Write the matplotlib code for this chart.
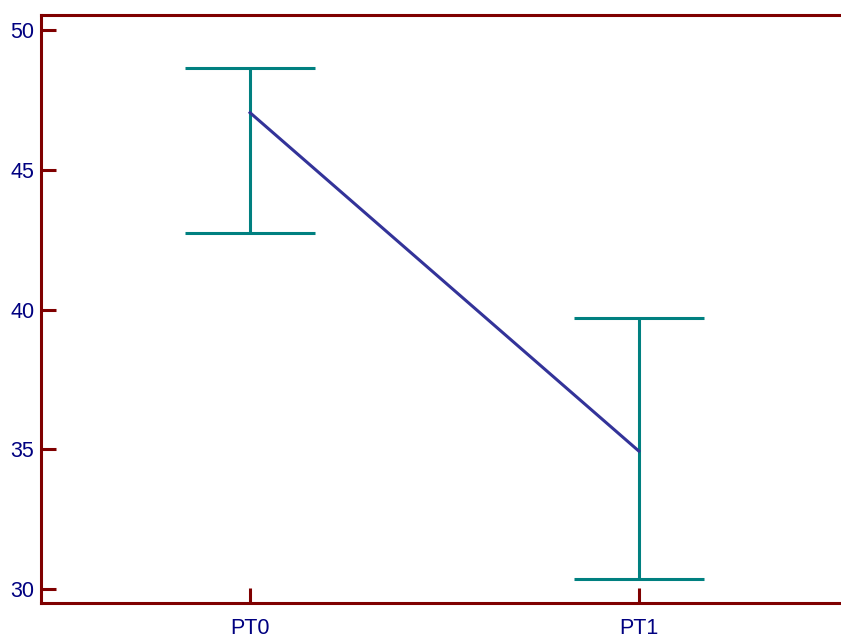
import numpy as np
import matplotlib.pyplot as plt

# values
labels = ['PT0', 'PT1']
means = [47.05, 34.93]
upper = [48.64, 39.69]
lower = [42.74, 30.36]
yticks = [30, 35, 40, 45, 50]

spine_col = '#7f0000'
text_col = '#000080'

plt.rcParams['font.family'] = ['Liberation Sans', 'DejaVu Sans']

x = np.arange(len(labels))
m = np.array(means)
err = [m - np.array(lower), np.array(upper) - m]

fig = plt.figure(figsize=(8.41, 6.34), dpi=100)
ax = fig.add_axes([0.0491, 0.0494, 0.9509, 0.9274])

ax.errorbar(x, m, yerr=err, fmt='none', ecolor='#008080', elinewidth=2.2,
            capsize=47, capthick=2.2, zorder=2)
ax.plot(x, m, color='#333399', lw=2.2, zorder=3)

ax.set_xlim(-0.537, 1.52)
ax.set_ylim(29.5, 50.56)
ax.set_xticks(x)
ax.set_xticklabels(labels)
ax.set_yticks(yticks)

for side in ['left', 'top', 'bottom']:
    ax.spines[side].set_color(spine_col)
    ax.spines[side].set_linewidth(2.2)
ax.spines['right'].set_visible(False)

ax.tick_params(direction='in', length=11, width=2.2, color=spine_col,
               labelcolor=text_col, labelsize=15.5)
ax.tick_params(axis='y', pad=5)
ax.tick_params(axis='x', pad=11)

fig.savefig('out.png', dpi=100)
